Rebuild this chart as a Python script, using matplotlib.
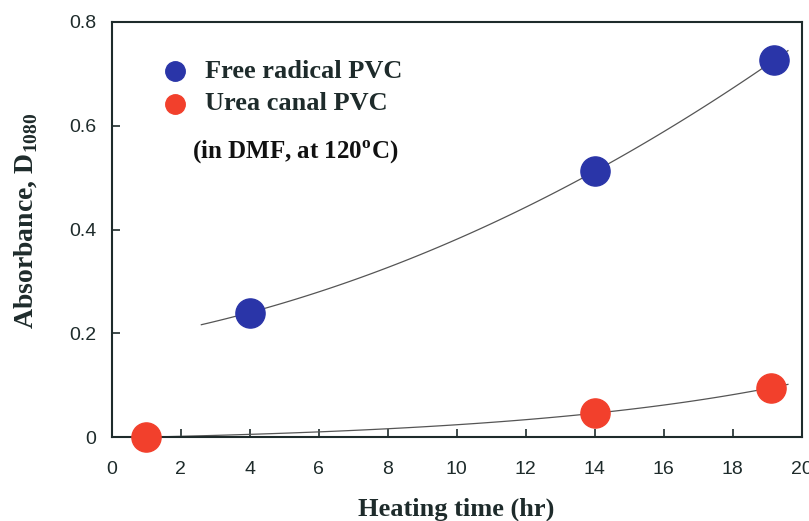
import matplotlib
matplotlib.use('Agg')
import matplotlib.pyplot as plt
import numpy as np

plt.rcParams['mathtext.fontset'] = 'custom'
plt.rcParams['mathtext.rm'] = 'Liberation Serif'
plt.rcParams['mathtext.bf'] = 'Liberation Serif:bold'

# data
time_free = [4, 14, 19.2]
abs_free = [0.24, 0.512, 0.726]
time_urea = [1, 14, 19.1]
abs_urea = [0.0, 0.046, 0.095]

xticks = [0, 2, 4, 6, 8, 10, 12, 14, 16, 18, 20]
yticks = [0, 0.2, 0.4, 0.6, 0.8]
ytick_labels = ['0', '0.2', '0.4', '0.6', '0.8']

ink = '#1e2b2b'
blue = '#2a35a8'
red = '#f2402c'

fig = plt.figure(figsize=(8.09, 5.21), dpi=100)
ax = fig.add_axes([0.138, 0.161, 0.853, 0.797])

# trend line for free radical PVC: quadratic
pf = np.polyfit(time_free, abs_free, 2)
xf = np.linspace(2.6, 19.6, 100)
ax.plot(xf, np.polyval(pf, xf), color='#555555', lw=0.9, zorder=2)

# trend line for urea canal PVC: a*(exp(b*(x-x0))-1), through the points
x0 = time_urea[0]
target = abs_urea[2] / abs_urea[1]
lo, hi = 1e-6, 1.0
for _ in range(60):
    b = (lo + hi) / 2
    r = (np.exp(b * (time_urea[2] - x0)) - 1) / (np.exp(b * (time_urea[1] - x0)) - 1)
    if r < target:
        lo = b
    else:
        hi = b
a = abs_urea[1] / (np.exp(b * (time_urea[1] - x0)) - 1)
xu = np.linspace(1, 19.6, 100)
ax.plot(xu, a * (np.exp(b * (xu - x0)) - 1), color='#555555', lw=0.9, zorder=2)

ax.plot(time_free, abs_free, 'o', color=blue, ms=21, mec=blue, zorder=3, clip_on=False)
ax.plot(time_urea, abs_urea, 'o', color=red, ms=21, mec=red, zorder=3, clip_on=False)

ax.set_xlim(0, 20)
ax.set_ylim(0, 0.8)
ax.set_xticks(xticks)
ax.set_yticks(yticks)
ax.set_yticklabels(ytick_labels)

tickfont = ['Liberation Sans Narrow', 'Liberation Sans', 'DejaVu Sans']
for lab in ax.get_xticklabels() + ax.get_yticklabels():
    lab.set_fontfamily(tickfont)
    lab.set_fontsize(14)
    lab.set_color(ink)
ax.tick_params(direction='in', length=6, width=1.2, color=ink)
ax.tick_params(axis='x', pad=17)
ax.tick_params(axis='y', pad=11)
for s in ax.spines.values():
    s.set_color(ink)
    s.set_linewidth(1.5)

serif = ['Liberation Serif', 'DejaVu Serif']
ax.set_xlabel('Heating time (hr)', fontfamily=serif, fontweight='bold', fontsize=19, color=ink, labelpad=14)
ax.set_ylabel('Absorbance, D$_{\\mathbf{1080}}$', fontfamily=serif, fontweight='bold', fontsize=20,
              color=ink)
ax.yaxis.set_label_coords(-0.104, 0.52)

# legend drawn by hand like the original
ax.plot([1.83], [0.705], 'o', color=blue, ms=14, zorder=4)
ax.plot([1.83], [0.642], 'o', color=red, ms=14, zorder=4)
ax.text(2.7, 0.705, 'Free radical PVC', fontfamily=serif, fontweight='bold', fontsize=19,
        color=ink, va='center')
ax.text(2.7, 0.642, 'Urea canal PVC', fontfamily=serif, fontweight='bold', fontsize=19,
        color=ink, va='center')
ax.text(2.32, 0.548, '(in DMF, at 120$^{\\mathbf{o}}$C)', fontfamily=serif, fontweight='bold',
        fontsize=18, color='#111111', va='center')

fig.savefig('out.png', dpi=100)
